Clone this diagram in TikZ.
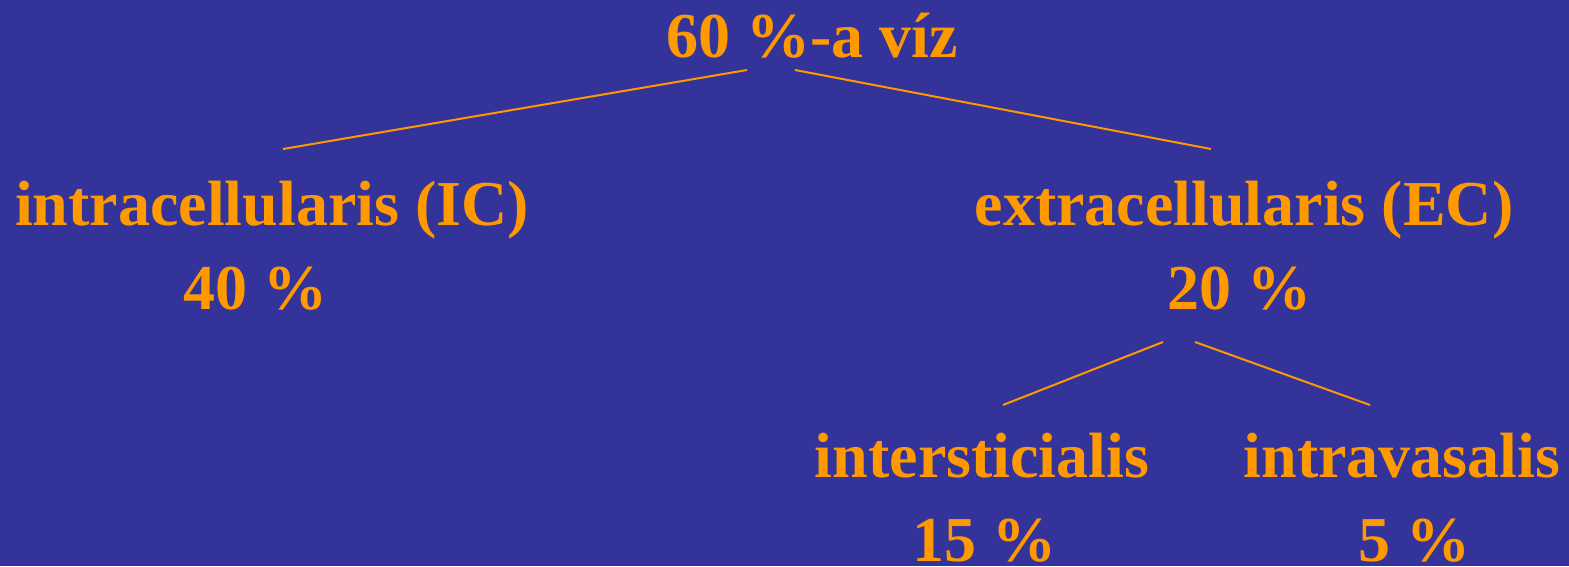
\documentclass[tikz,border=0pt]{standalone}
\usepackage{fontspec}
\setmainfont{Liberation Serif}
\usepackage{tikz}
\definecolor{slidebg}{RGB}{51,51,153}
\definecolor{accent}{RGB}{255,153,0}

\begin{document}
\begin{tikzpicture}[
  x=1pt, y=-1pt,
  lbl/.style={text=accent, anchor=base, inner sep=0pt,
              font=\fontsize{64}{70}\selectfont\bfseries},
  branch/.style={draw=accent, line width=2pt}
]
  \fill[slidebg] (0,0) rectangle (1569,566);
  \useasboundingbox (0,0) rectangle (1569,566);

  \node[lbl] (total) at (812,57) {60 \%-a víz};
  \node[lbl] (ic) at (272,225) {intracellularis (IC)};
  \node[lbl] (icval) at (255,309) {40 \%};
  \node[lbl] (ec) at (1244,225) {extracellularis (EC)};
  \node[lbl] (ecval) at (1239,309) {20 \%};
  \node[lbl] (inter) at (982,477) {intersticialis};
  \node[lbl] (interval) at (984,561) {15 \%};
  \node[lbl] (vasc) at (1402,477) {intravasalis};
  \node[lbl] (vascval) at (1414,561) {5 \%};

  % branch ends
  \coordinate (totL) at (747,70);
  \coordinate (totR) at (795,70);
  \coordinate (icTop) at (283,149);
  \coordinate (ecTop) at (1211,149);
  \coordinate (ecL) at (1163,342);
  \coordinate (ecR) at (1195,342);
  \coordinate (interTop) at (1003,405);
  \coordinate (vascTop) at (1370,405);

  \draw[branch] (totL) -- (icTop);
  \draw[branch] (totR) -- (ecTop);
  \draw[branch] (ecL) -- (interTop);
  \draw[branch] (ecR) -- (vascTop);
\end{tikzpicture}
\end{document}
